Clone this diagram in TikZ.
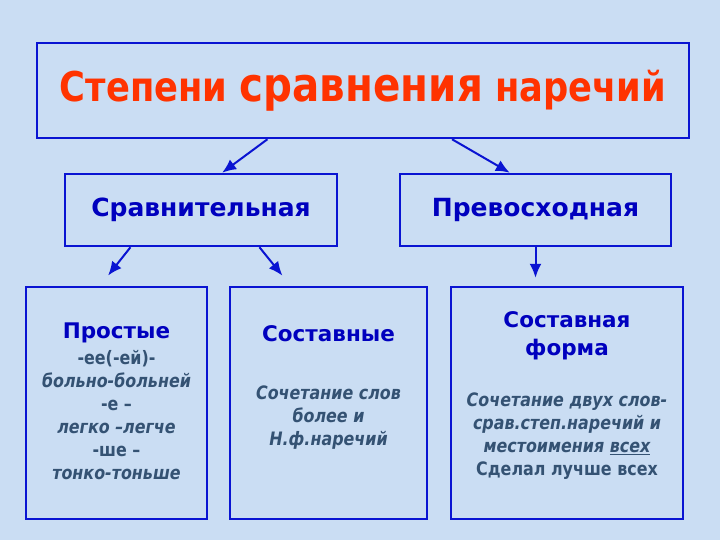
\documentclass[tikz,border=0pt]{standalone}
\usepackage{fontspec}
\setmainfont{DejaVu Sans}
\newfontfamily\narrowfont{DejaVu Sans}[FakeStretch=0.86]
\usepackage{tikz}
\usetikzlibrary{arrows.meta,calc}

\definecolor{bgblue}{RGB}{202,221,243}
\definecolor{lineblue}{RGB}{10,20,210}
\definecolor{headblue}{RGB}{0,0,190}
\definecolor{bodyslate}{RGB}{52,82,115}
\definecolor{titlered}{RGB}{255,51,0}

\newcommand{\headtxt}[1]{{\color{headblue}\fontsize{21.5}{25}\selectfont #1}}

\tikzset{
  box/.style={rectangle, draw=lineblue, line width=2.5pt, inner sep=0pt},
  head/.style={text=headblue, font=\bfseries\fontsize{25}{28}\selectfont, align=center},
  body/.style={text=bodyslate, font=\bfseries\fontsize{18.5}{23}\selectfont, align=center, anchor=north},
  link/.style={draw=lineblue, line width=2pt, -{Latex[length=14pt,width=12pt]}}
}

\begin{document}
\begin{tikzpicture}[x=1pt,y=-1pt]
            \fill[bgblue] (0,0) rectangle (720,540);
            \useasboundingbox (0,0) rectangle (720,540);
            % Nodes
            \node[box, minimum width=652pt, minimum height=95pt] (n1) at (363,90.5)
                {\textcolor{titlered}{\narrowfont\bfseries\fontsize{41}{46}\selectfont Степени {\fontsize{47}{47}\selectfont сравнения} наречий}};
            \node[box, minimum width=272pt, minimum height=72pt, head] (n2) at (201,210) {Сравнительная};
            \node[box, minimum width=271pt, minimum height=72pt, head] (n3) at (535.5,210) {Превосходная};
            \node[box, minimum width=181pt, minimum height=232pt] (n4) at (116.5,403) {};
            \node[box, minimum width=197pt, minimum height=232pt] (n5) at (328.5,403) {};
            \node[box, minimum width=232pt, minimum height=232pt] (n6) at (567,403) {};

            \node[body] (t4) at (116.5,319) {\headtxt{Простые}\\[3pt] \narrowfont
                -ее(-ей)-\\ \narrowfont\itshape больно-больней\\ \narrowfont -е –\\ \narrowfont\itshape легко –легче\\ \narrowfont -ше –\\ \narrowfont\itshape тонко-тоньше};
            \node[body] (t5) at (328.5,322) {\headtxt{Составные}\\[35pt]
                \narrowfont\itshape Сочетание слов\\ \narrowfont\itshape более и\\ \narrowfont\itshape Н.ф.наречий};
            \node[body] (t6) at (567,308) {\headtxt{Составная}\\[5pt] \headtxt{форма}\\[28pt]
                \narrowfont\itshape Сочетание двух слов-\\ \narrowfont\itshape срав.степ.наречий и\\ \narrowfont\itshape местоимения \underline{всех}\\ \narrowfont Сделал лучше всех};

            % Edges
            \draw[link] ($(n1.south west)!.354!(n1.south east)$) -- ($(n2.north west)!.577!(n2.north east)$);
            \draw[link] ($(n1.south west)!.636!(n1.south east)$) -- ($(n3.north west)!.406!(n3.north east)$);
            \draw[link, shorten >=13pt] ($(n2.south west)!.243!(n2.south east)$) -- ($(n4.north west)!.41!(n4.north east)$);
            \draw[link, shorten >=13pt] ($(n2.south west)!.713!(n2.south east)$) -- ($(n5.north west)!.31!(n5.north east)$);
            \draw[link, shorten >=8pt] (n3.south) -- (n3.south |- n6.north);
        \end{tikzpicture}
\end{document}
